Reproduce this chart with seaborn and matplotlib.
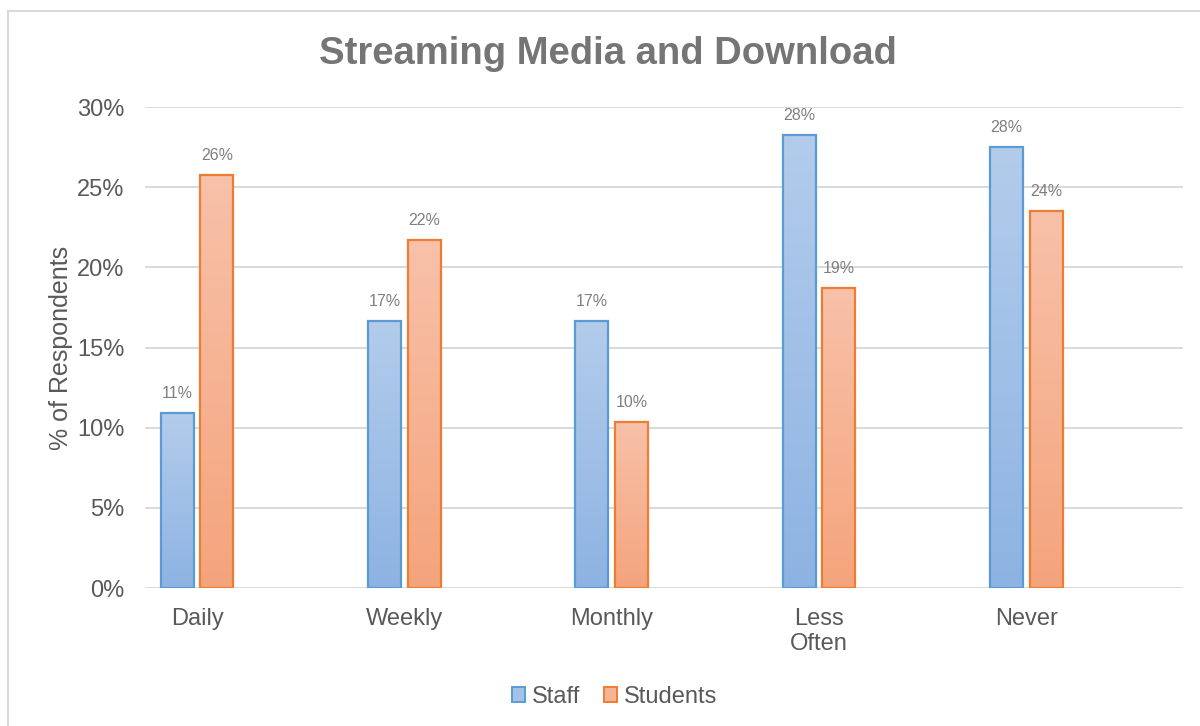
import numpy as np
import pandas as pd
import matplotlib
matplotlib.use("Agg")
import matplotlib.pyplot as plt
from matplotlib.colors import LinearSegmentedColormap
from matplotlib.lines import Line2D
from matplotlib.patches import Patch
import seaborn as sns

# Survey results: share of respondents by frequency of streaming/downloading
categories = ["Daily", "Weekly", "Monthly", "Less\nOften", "Never"]
staff = [10.9, 16.65, 16.65, 28.25, 27.5]
students = [25.75, 21.7, 10.35, 18.7, 23.5]
groups = ["Staff", "Students"]
y_ticks = [0, 5, 10, 15, 20, 25, 30]

df = pd.DataFrame({
    "Frequency": categories * 2,
    "Percent": staff + students,
    "Group": [groups[0]] * len(categories) + [groups[1]] * len(categories),
})

edge_colors = {"Staff": "#5b9bd5", "Students": "#ed7d31"}
grad_colors = {
    "Staff": ("#b3cceb", "#8db3e2"),      # top, bottom
    "Students": ("#f8c1a9", "#f4a47c"),
}
mid_colors = {"Staff": "#a4c2e8", "Students": "#f6b394"}

sns.set_theme(style="white")
plt.rcParams["font.family"] = ["Liberation Sans", "DejaVu Sans"]

fig = plt.figure(figsize=(12, 7.26), dpi=100)
ax = fig.add_axes([0.121, 0.19, 0.865, 0.6626])

sns.barplot(
    data=df, x="Frequency", y="Percent", hue="Group", order=categories,
    hue_order=groups, palette=mid_colors, width=0.384, gap=0.17,
    ax=ax, legend=False, errorbar=None,
)

x_limits = (-0.25, 4.757)
ax.set_yticks(y_ticks)
ax.set_yticklabels([f"{t}%" for t in y_ticks])
ax.grid(axis="y", color="#d9d9d9", linewidth=1.4)
ax.set_axisbelow(True)
for s in ax.spines.values():
    s.set_visible(False)
ax.tick_params(axis="both", length=0, labelsize=17, labelcolor="#595959")
ax.tick_params(axis="x", pad=14)
ax.tick_params(axis="y", pad=15)
ax.set_xlabel("")
ax.set_ylabel("% of Respondents", fontsize=18, color="#595959", labelpad=3)

# Vertical gradient fill for each bar, clipped to the bar shape
for container, grp in zip(ax.containers, groups):
    top_c, bot_c = grad_colors[grp]
    cmap = LinearSegmentedColormap.from_list(grp, [bot_c, top_c])
    grad = np.linspace(0, 1, 256).reshape(-1, 1)
    for bar in container:
        x0, y0 = bar.get_x(), bar.get_y()
        w, h = bar.get_width(), bar.get_height()
        bar.set_facecolor("none")
        bar.set_edgecolor(edge_colors[grp])
        bar.set_linewidth(1.6)
        bar.set_zorder(3)
        im = ax.imshow(grad, cmap=cmap, aspect="auto", origin="lower",
                       extent=(x0, x0 + w, y0, y0 + h), zorder=2.5,
                       interpolation="bilinear")
        im.set_clip_path(bar)
    vals = [b.get_height() for b in container]
    ax.bar_label(container, labels=[f"{v:.0f}%" for v in vals], padding=9,
                 fontsize=11.5, color="#7f7f7f")
ax.set_xlim(*x_limits)
ax.set_ylim(0, 30)

fig.suptitle("Streaming Media and Download", x=0.507, y=0.951,
             fontsize=27.5, fontweight="bold", color="#757575")

handles = [Patch(facecolor=mid_colors[g], edgecolor=edge_colors[g],
                 linewidth=1.4, label=g) for g in groups]
fig.legend(handles=handles, loc="center", bbox_to_anchor=(0.512, 0.04),
           ncol=2, frameon=False, fontsize=17, labelcolor="#595959",
           handlelength=0.55, handleheight=0.55, handletextpad=0.3,
           columnspacing=1.0)

# Chart frame (left and top edges)
fig.add_artist(Line2D([8 / 1200, 8 / 1200], [0, 1 - 11 / 726],
                      transform=fig.transFigure, color="#d9d9d9", lw=1.5))
fig.add_artist(Line2D([8 / 1200, 1], [1 - 11 / 726, 1 - 11 / 726],
                      transform=fig.transFigure, color="#d9d9d9", lw=1.5))

fig.savefig("out.png", dpi=100, facecolor="white")
